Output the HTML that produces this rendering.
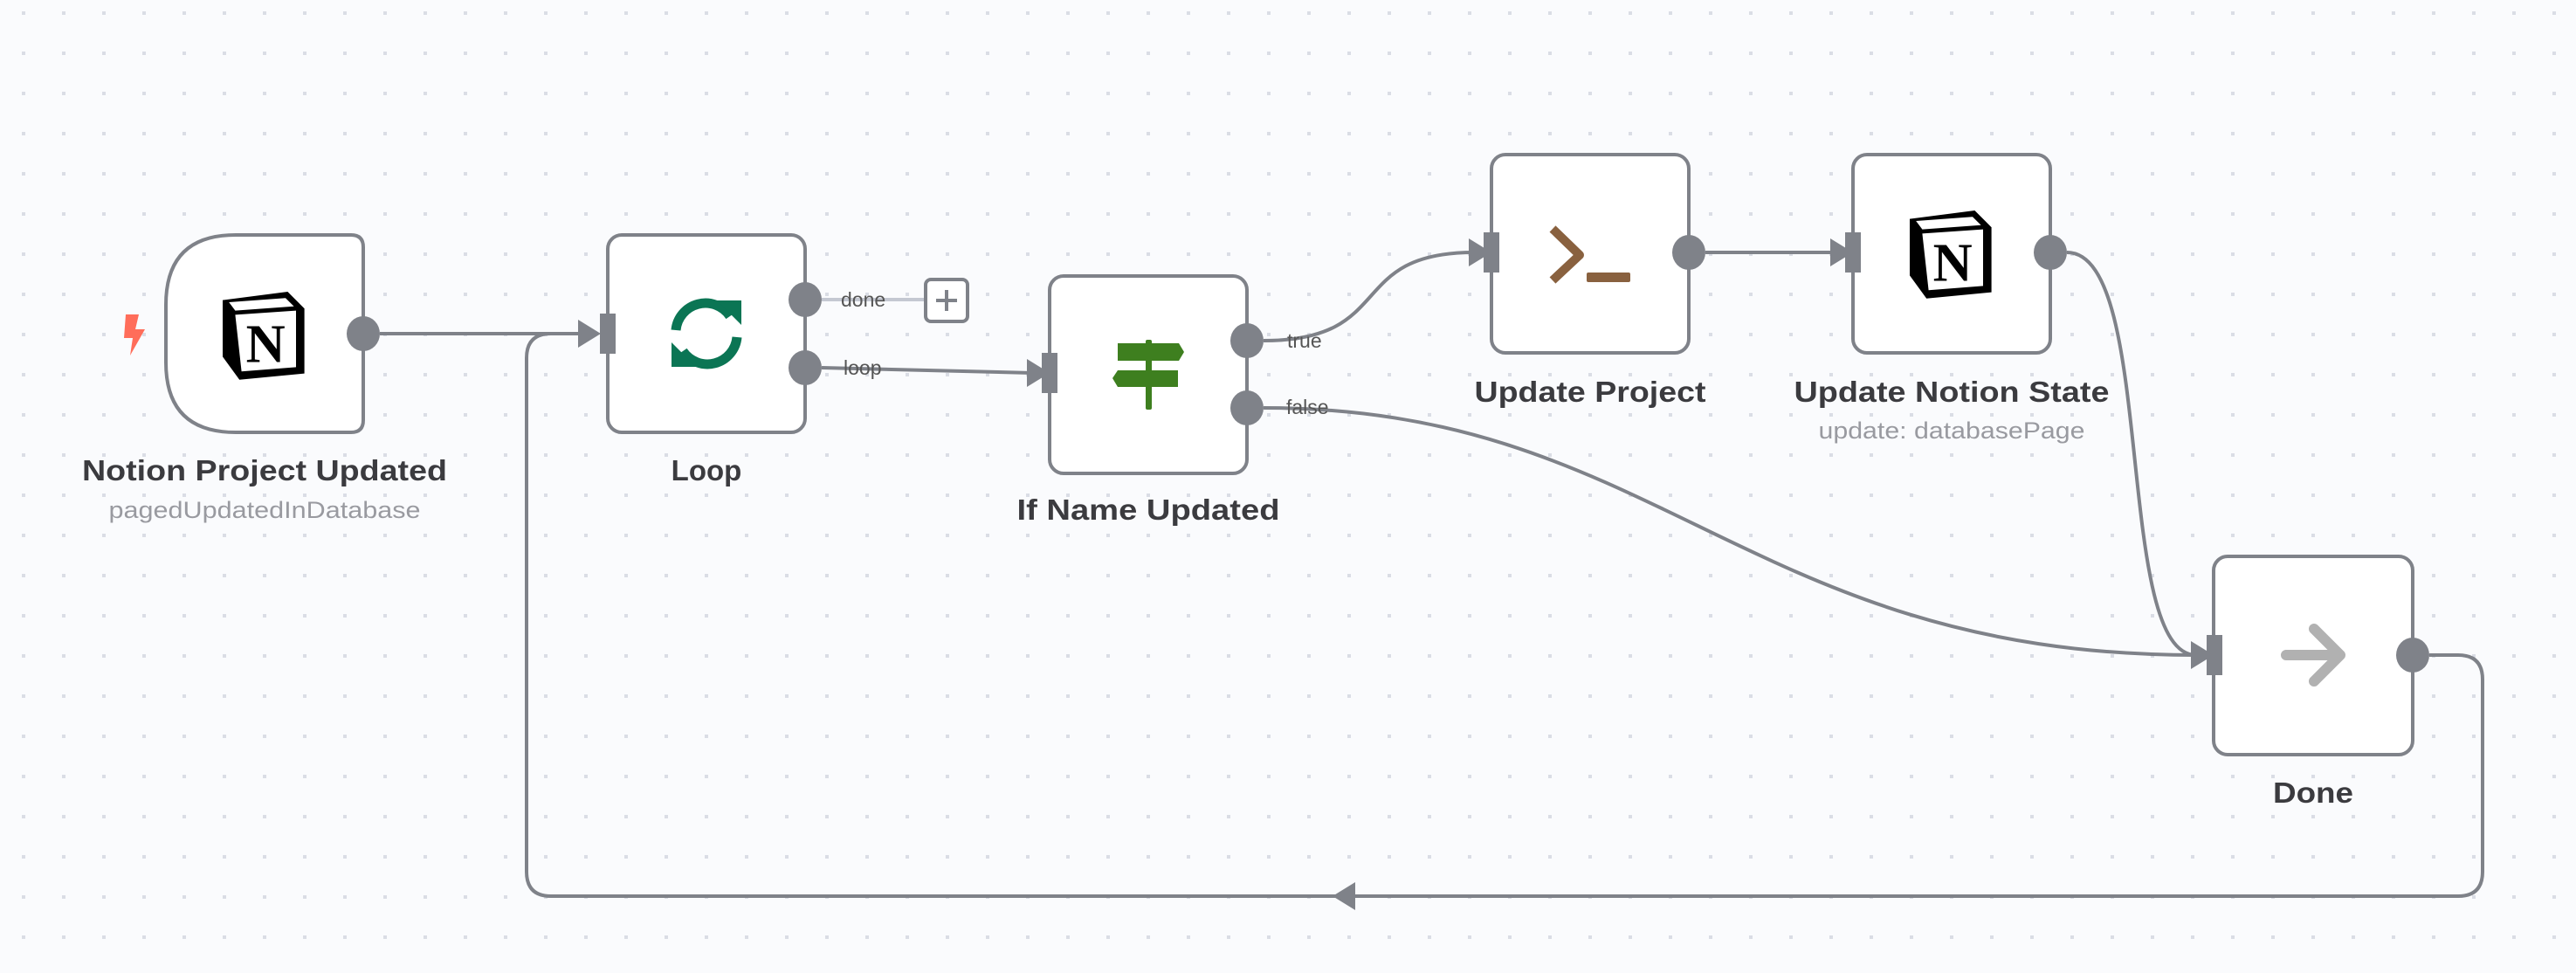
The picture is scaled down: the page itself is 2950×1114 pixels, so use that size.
<!DOCTYPE html>
<html><head><meta charset="utf-8"><style>
html,body{margin:0;padding:0;background:#fafbfd;}
svg{display:block}
</style></head><body>
<svg width="2950" height="1114" viewBox="0 0 2950 1114" xmlns="http://www.w3.org/2000/svg" style="font-family:'Liberation Sans',sans-serif">
<defs>
<pattern id="g" x="25" y="13" width="46" height="46" patternUnits="userSpaceOnUse">
<rect x="0" y="0" width="4" height="4" fill="#dadde5"/>
</pattern>
</defs>
<rect width="2950" height="1114" fill="#fafbfd"/>
<rect width="2950" height="1114" fill="url(#g)"/>

<g fill="none" stroke="#7f8289" stroke-width="4">
<path d="M435 382 L668 382"/>
<path d="M2782 750 L2815 750 Q2843 750 2843 778 L2843 998 Q2843 1026 2815 1026 L631 1026 Q603 1026 603 998 L603 410 Q603 382 631 382"/>
<path d="M941 421 L1182 427"/>
<path d="M1447 390 C1600 390 1540 289 1688 289"/>
<path d="M1447 467 C1900 467 2000 750 2515 750"/>
<path d="M1953 289 L2102 289"/>
<path d="M2367 289 C2470 289 2420 750 2515 750"/>
</g>
<path d="M941 343 L1058 343" stroke="#c4c8d2" stroke-width="4"/>
<g fill="#7f8289">
<polygon points="662,366 688,382 662,398"/>
<polygon points="1176,411 1202,427 1176,443"/>
<polygon points="1682,273 1708,289 1682,305"/>
<polygon points="2096,273 2122,289 2096,305"/>
<polygon points="2509,734 2535,750 2509,766"/>
<polygon points="1552,1010 1526,1026 1552,1042"/>
</g>

<rect x="1060" y="320" width="48" height="48" rx="6" fill="#fff" stroke="#7f8289" stroke-width="4"/>
<path d="M1084 332 V356 M1072 344 H1096" stroke="#7f8289" stroke-width="4"/>

<g fill="#fff" stroke="#7f8289" stroke-width="4">
<path d="M270 269 L402 269 Q416 269 416 283 L416 481 Q416 495 402 495 L270 495 Q190 495 190 415 L190 349 Q190 269 270 269 Z"/>
<rect x="696" y="269" width="226" height="226" rx="16"/>
<rect x="1202" y="316" width="226" height="226" rx="16"/>
<rect x="1708" y="177" width="226" height="227" rx="16"/>
<rect x="2122" y="177" width="226" height="227" rx="16"/>
<rect x="2535" y="637" width="228" height="227" rx="16"/>
</g>

<g fill="#7f8289">
<ellipse cx="416" cy="382" rx="19" ry="20"/>
<rect x="687" y="359" width="18" height="46"/>
<ellipse cx="922" cy="343" rx="19" ry="20"/>
<ellipse cx="922" cy="421" rx="19" ry="20"/>
<rect x="1193" y="404" width="18" height="46"/>
<ellipse cx="1428" cy="390" rx="19" ry="20"/>
<ellipse cx="1428" cy="467" rx="19" ry="20"/>
<rect x="1699" y="266" width="18" height="46"/>
<ellipse cx="1934" cy="289" rx="19" ry="20"/>
<rect x="2113" y="266" width="18" height="46"/>
<ellipse cx="2348" cy="289" rx="19" ry="20"/>
<rect x="2527" y="727" width="18" height="46"/>
<ellipse cx="2763" cy="750" rx="19" ry="20"/>
</g>

<path d="M144 360 L159 360 L155 377 L166 377 L149 407 L152 387 L142 387 Z" fill="#ff6d5a"/>

<g transform="translate(303,382) scale(1.2)">
<path d="M-40 -32 L22 -40 L38 -24 L38 38 L-24 44 L-40 22 Z" fill="#000"/>
<path d="M-28 -18 L30 -22 L30 32 L-22 36 Z" fill="#fff"/>
<path d="M-34 -30 L20 -34 L28 -26 L-28 -22 Z" fill="#fff"/>
<text x="1" y="27" text-anchor="middle" style="font-family:'Liberation Serif',serif;font-weight:bold;font-size:52px" fill="#000">N</text>
</g>
<g transform="translate(2235,289) scale(1.2)">
<path d="M-40 -32 L22 -40 L38 -24 L38 38 L-24 44 L-40 22 Z" fill="#000"/>
<path d="M-28 -18 L30 -22 L30 32 L-22 36 Z" fill="#fff"/>
<path d="M-34 -30 L20 -34 L28 -26 L-28 -22 Z" fill="#fff"/>
<text x="1" y="27" text-anchor="middle" style="font-family:'Liberation Serif',serif;font-weight:bold;font-size:52px" fill="#000">N</text>
</g>

<g fill="none" stroke="#0b7554" stroke-width="11">
<path d="M774 378 A34 34 0 0 1 836 362"/>
<path d="M844 386 A34 34 0 0 1 782 402"/>
</g>
<g fill="#0b7554">
<polygon points="821,344 849,344 849,372"/>
<polygon points="769,420 769,392 797,420"/>
</g>

<g fill="#3e7f1f">
<rect x="1312" y="389" width="7" height="80" rx="2"/>
<path d="M1280 393 L1350 393 L1356 403 L1350 413 L1280 413 Z"/>
<path d="M1280 424 L1349 424 L1349 443 L1280 443 L1274 433 Z"/>
</g>

<path d="M1778 262 L1809 292 L1778 321" fill="none" stroke="#89613f" stroke-width="10" stroke-linejoin="round"/>
<rect x="1817" y="312" width="50" height="11" rx="2" fill="#89613f"/>

<g fill="none" stroke="#b1b1b1" stroke-width="12" stroke-linecap="round" stroke-linejoin="round">
<path d="M2618 750 H2680 M2650 720 L2680 750 L2650 780"/>
</g>

<g font-size="23" fill="#555">
<text x="963" y="351">done</text>
<text x="966" y="429">loop</text>
<text x="1474" y="398">true</text>
<text x="1473" y="474">false</text>
</g>

<g font-weight="bold" font-size="33" fill="#3b3b3f" text-anchor="middle">
<text x="303" y="550" textLength="418" lengthAdjust="spacingAndGlyphs">Notion Project Updated</text>
<text x="809" y="550">Loop</text>
<text x="1315" y="595" textLength="301" lengthAdjust="spacingAndGlyphs">If Name Updated</text>
<text x="1821" y="460" textLength="265" lengthAdjust="spacingAndGlyphs">Update Project</text>
<text x="2235" y="460" textLength="361" lengthAdjust="spacingAndGlyphs">Update Notion State</text>
<text x="2649" y="919" textLength="92" lengthAdjust="spacingAndGlyphs">Done</text>
</g>
<g font-size="27" fill="#999aa0" text-anchor="middle">
<text x="303" y="593" textLength="357" lengthAdjust="spacingAndGlyphs">pagedUpdatedInDatabase</text>
<text x="2235" y="502" textLength="305" lengthAdjust="spacingAndGlyphs">update: databasePage</text>
</g>
</svg>
</body></html>
